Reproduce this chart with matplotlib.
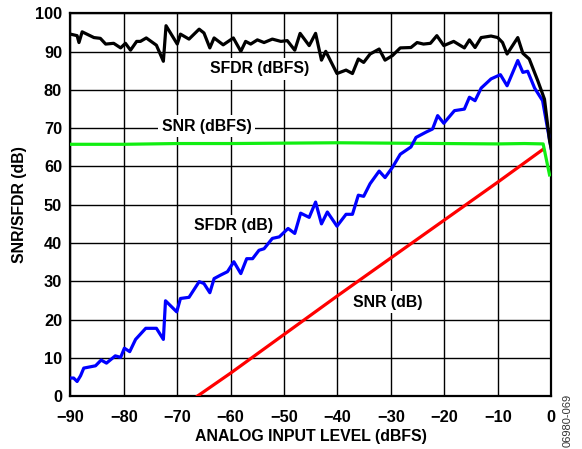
"""SNR/SFDR vs analog input level, redrawn from a datasheet figure."""

import matplotlib
matplotlib.use("Agg")
import matplotlib.pyplot as plt

plt.rcParams["font.family"] = ["Liberation Sans", "DejaVu Sans"]
plt.rcParams["axes.unicode_minus"] = True

# SFDR (dBFS), black
sfdr_dbfs_x = [-90, -88.75, -88.4, -87.8, -85.6, -84.4, -83.4, -81.9, -80.6, -79.7,
               -78.75, -77.6, -76.9, -75.8, -73.9, -72.6, -72.1, -70, -69.4, -67.8,
               -65.9, -65, -63.9, -63.1, -61.4, -59.5, -58.1, -57.2, -56.25, -55,
               -53.75, -52.2, -50.6, -49.4, -48, -47, -45.3, -44.1, -43, -42.2,
               -40.1, -38.4, -37.2, -36.1, -35.1, -33.9, -32.2, -31.1, -29.7, -28.25,
               -26.25, -25.1, -23.9, -22.6, -21.4, -20.1, -18.25, -16.25, -15.3, -14.25,
               -13.1, -11.25, -10, -9.1, -8.25, -6.25, -5.3, -4.1, -2.5, -1.25,
               -0.3, 0]
sfdr_dbfs_y = [94.6, 94.2, 92.4, 95.2, 93.7, 93.5, 92.0, 92.2, 91.0, 92.2,
               90.4, 92.7, 92.7, 93.6, 91.7, 87.5, 96.8, 92.0, 94.6, 93.3,
               95.9, 94.9, 91.0, 93.6, 91.8, 93.6, 90.1, 92.7, 92.0, 93.1,
               92.4, 93.3, 92.7, 92.9, 90.4, 94.8, 91.6, 94.8, 87.8, 90.1,
               84.3, 85.2, 84.3, 88.1, 87.2, 89.4, 90.7, 87.8, 89.0, 91.0,
               91.1, 92.4, 92.0, 92.2, 94.2, 91.6, 92.7, 91.0, 93.1, 91.1,
               93.7, 94.1, 93.7, 92.4, 89.4, 93.7, 89.6, 88.1, 82.4, 77.6,
               66.8, 64.7]

# SNR (dBFS), green
snr_dbfs_x = [-90, -80, -70, -60, -50, -40, -30, -20, -10, -5, -1.5, -0.3]
snr_dbfs_y = [65.8, 65.8, 66.0, 66.0, 66.1, 66.2, 66.1, 66.0, 65.9, 66.0, 65.9, 57.8]

# SFDR (dB), blue
sfdr_db_x = [-90, -89.4, -88.75, -88.1, -87.5, -85.3, -84.25, -83.25, -81.6, -80.6,
             -79.9, -78.9, -77.8, -75.9, -73.9, -72.6, -72.2, -70.1, -69.4, -67.8,
             -65.9, -65, -63.9, -63.1, -61.9, -60.6, -59.4, -58.1, -57, -55.9,
             -54.7, -53.75, -52.2, -50.9, -49.25, -48, -46.9, -45.3, -44.1, -43,
             -41.9, -40.1, -38.4, -37.2, -36.1, -35.1, -33.9, -32.2, -31.1, -29.7,
             -28.25, -26.25, -25.3, -23.4, -22.2, -21.25, -20.1, -18.1, -16.25, -15.3,
             -14.25, -13.1, -11.25, -9.5, -8.25, -6.25, -5.3, -4.4, -3.1, -1.6,
             -0.3, 0]
sfdr_db_y = [4.7, 4.7, 3.8, 5.3, 7.3, 7.9, 9.4, 8.6, 10.5, 10.1,
             12.5, 11.6, 14.8, 17.7, 17.7, 14.8, 24.9, 22.0, 25.5, 25.8,
             29.9, 29.4, 27.0, 30.7, 31.6, 32.5, 35.1, 32.0, 35.9, 35.9,
             38.1, 38.5, 41.2, 41.6, 43.8, 42.5, 47.8, 46.7, 50.7, 45.0,
             48.1, 44.4, 47.5, 47.5, 52.5, 52.2, 55.5, 58.8, 57.1, 59.8,
             63.2, 65.1, 67.6, 69.0, 69.8, 73.3, 71.3, 74.6, 75.0, 78.1,
             77.2, 80.5, 82.9, 84.0, 81.1, 87.7, 84.6, 84.9, 80.5, 77.2,
             67.0, 64.8]

# SNR (dB), red
snr_db_x = [-66.2, -60, -50, -40, -30, -20, -10, -1.5]
snr_db_y = [0, 6.0, 16.1, 26.2, 36.1, 46.0, 55.9, 64.5]

x_ticks = [-90, -80, -70, -60, -50, -40, -30, -20, -10, 0]
y_ticks = [0, 10, 20, 30, 40, 50, 60, 70, 80, 90, 100]

labels = [
    ("SFDR (dBFS)", -54.5, 85.5),
    ("SNR (dBFS)", -64.5, 70.5),
    ("SFDR (dB)", -59.5, 44.5),
    ("SNR (dB)", -30.5, 24.5),
]


def main() -> None:
    fig = plt.figure(figsize=(5.82, 4.49), dpi=100)
    ax = fig.add_axes([0.121, 0.118, 0.826, 0.852])

    ax.set_xlim(-90, 0)
    ax.set_ylim(0, 100)
    ax.set_xticks(x_ticks)
    ax.set_yticks(y_ticks)
    ax.grid(True, color="black", linewidth=1.0, zorder=0)
    ax.set_axisbelow(True)
    ax.tick_params(length=0, labelsize=11.8)
    ax.tick_params(axis="x", pad=10)
    ax.tick_params(axis="y", pad=6)
    for lab in ax.get_xticklabels() + ax.get_yticklabels():
        lab.set_fontweight("bold")
    for sp in ax.spines.values():
        sp.set_linewidth(1.6)

    for text, x, y in labels:
        ax.text(x, y, text, ha="center", va="center", fontsize=11.4,
                fontweight="bold", zorder=2,
                bbox=dict(facecolor="white", edgecolor="none", pad=2.5))

    ax.plot(snr_db_x, snr_db_y, color="#ff0000", linewidth=2.3, zorder=3)
    ax.plot(snr_dbfs_x, snr_dbfs_y, color="#11ee11", linewidth=2.3, zorder=3)
    ax.plot(sfdr_db_x, sfdr_db_y, color="#0000ff", linewidth=2.3, zorder=4)
    ax.plot(sfdr_dbfs_x, sfdr_dbfs_y, color="black", linewidth=2.3, zorder=5)

    ax.set_xlabel("ANALOG INPUT LEVEL (dBFS)", fontsize=11.4,
                  fontweight="bold", labelpad=3)
    ax.set_ylabel("SNR/SFDR (dB)", fontsize=11.4, fontweight="bold",
                  labelpad=6)

    fig.text(0.976, 0.005, "06980-069", rotation=90, fontsize=8,
             ha="center", va="bottom", color="#333333")

    fig.savefig("out.png", dpi=100)
    plt.close(fig)


if __name__ == "__main__":
    main()
